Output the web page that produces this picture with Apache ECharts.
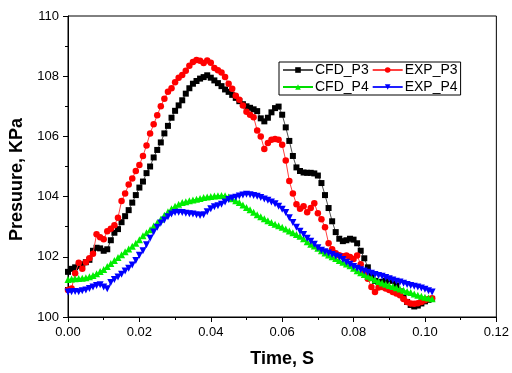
<!DOCTYPE html>
<html>
<head>
<meta charset="utf-8">
<script src="https://cdn.jsdelivr.net/npm/echarts@6/dist/echarts.min.js"></script>
<style>
html,body{margin:0;padding:0;background:#fff;}
#chart{width:512px;height:373px;}
</style>
</head>
<body>
<div id="chart"></div>
<script>
const seriesNames = ['CFD_P3', 'EXP_P3', 'CFD_P4', 'EXP_P4'];
const timeStart = 0.0;
const timeStep = 0.001;

const cfdP3 = [101.5,101.6,101.65,101.7,101.75,101.82,101.9,102.2,102.3,102.28,
102.2,102.25,102.55,102.8,102.92,103.15,103.35,103.55,103.8,104.05,
104.3,104.5,104.78,105.0,105.3,105.55,105.8,106.1,106.35,106.62,
106.85,107.03,107.2,107.42,107.6,107.75,107.84,107.92,107.97,108.03,
107.95,107.86,107.77,107.67,107.56,107.48,107.38,107.28,107.17,107.07,
107.0,106.95,106.9,106.84,106.6,106.5,106.62,106.8,106.94,106.99,
106.72,106.3,105.85,105.35,104.97,104.85,104.8,104.79,104.79,104.77,
104.7,104.45,104.05,103.62,103.18,102.82,102.6,102.52,102.55,102.6,
102.57,102.45,102.2,101.95,101.65,101.38,101.2,101.16,101.17,101.2,
101.25,101.2,101.05,100.85,100.65,100.5,100.4,100.35,100.38,100.45,
100.52,100.57,100.6];

const expP3 = [100.9,100.95,101.45,101.8,101.6,101.82,101.95,102.1,102.75,102.65,
102.58,102.85,102.93,103.05,103.3,103.85,104.1,104.4,104.6,104.85,
105.05,105.35,105.7,106.1,106.4,106.7,107.0,107.25,107.48,107.6,
107.8,107.95,108.04,108.18,108.35,108.47,108.54,108.51,108.44,108.52,
108.45,108.27,108.2,108.12,107.97,107.75,107.58,107.35,107.22,107.03,
106.82,106.72,106.64,106.2,106.0,105.58,105.78,105.89,105.91,105.89,
105.72,105.2,104.52,104.1,103.75,103.6,103.68,103.48,103.62,103.78,
103.45,103.25,102.98,102.45,102.25,102.12,102.05,102.02,102.04,101.99,
101.93,102.04,101.75,101.45,101.27,101.0,100.83,100.98,101.0,100.95,
100.9,100.83,100.78,100.72,100.6,100.5,100.45,100.44,100.46,100.5,
100.56,100.6,100.62];

const cfdP4 = [101.25,101.26,101.27,101.28,101.29,101.3,101.34,101.38,101.44,101.51,
101.58,101.68,101.78,101.88,101.98,102.07,102.17,102.26,102.35,102.45,
102.57,102.7,102.8,102.9,103.02,103.13,103.25,103.38,103.5,103.6,
103.68,103.75,103.8,103.83,103.86,103.89,103.91,103.94,103.97,103.99,
104.0,104.02,104.03,104.04,104.03,103.99,103.93,103.86,103.8,103.72,
103.64,103.56,103.48,103.4,103.33,103.26,103.2,103.14,103.08,103.03,
102.98,102.92,102.86,102.8,102.74,102.68,102.6,102.5,102.42,102.36,
102.28,102.2,102.13,102.06,102.0,101.94,101.88,101.82,101.76,101.7,
101.62,101.54,101.47,101.41,101.35,101.3,101.24,101.18,101.13,101.09,
101.05,101.01,100.97,100.93,100.89,100.85,100.81,100.76,100.72,100.69,
100.66,100.63,100.61];

const expP4 = [100.83,100.84,100.85,100.84,100.87,100.9,100.95,101.0,101.05,101.07,
101.0,100.94,101.15,101.25,101.33,101.42,101.53,101.62,101.73,101.88,
102.05,102.2,102.4,102.62,102.82,102.98,103.12,103.22,103.33,103.42,
103.47,103.48,103.47,103.45,103.43,103.42,103.4,103.37,103.4,103.5,
103.6,103.66,103.7,103.75,103.82,103.9,103.95,103.98,104.02,104.05,
104.08,104.06,104.04,104.01,103.97,103.92,103.88,103.82,103.76,103.68,
103.58,103.47,103.3,103.14,102.98,102.85,102.74,102.62,102.52,102.42,
102.3,102.22,102.17,102.13,102.08,102.03,101.99,101.91,101.82,101.75,
101.68,101.62,101.57,101.53,101.49,101.45,101.41,101.38,101.35,101.31,
101.27,101.23,101.19,101.16,101.12,101.08,101.05,101.02,101.0,100.96,
100.92,100.87,100.83];

const xTicks = [0.00, 0.02, 0.04, 0.06, 0.08, 0.10, 0.12];
const yTicks = [100, 102, 104, 106, 108, 110];

function pairs(vals) {
  return vals.map((v, i) => [+(timeStart + i * timeStep).toFixed(4), v]);
}

const FONT = '"Liberation Sans", Arial, sans-serif';
const chart = echarts.init(document.getElementById('chart'), null, {renderer: 'canvas'});

const styles = [
  {symbol: 'rect', size: 6, rotate: 0, color: '#000000', line: '#505050'},
  {symbol: 'circle', size: 6.5, rotate: 0, color: '#ff0000', line: '#ff4040'},
  {symbol: 'triangle', size: 7, rotate: 0, color: '#00ee00', line: '#00dd00'},
  {symbol: 'triangle', size: 7, rotate: 180, color: '#0000ff', line: '#2020ff'}
];
const dataSets = [cfdP3, expP3, cfdP4, expP4];

const option = {
  animation: false,
  backgroundColor: '#fff',
  grid: {
    left: 68, right: 14, top: 16, bottom: 54,
    show: true, borderColor: '#000', borderWidth: 1
  },
  legend: {
    left: 279, top: 62, width: 184,
    orient: 'horizontal',
    data: seriesNames,
    itemWidth: 30, itemHeight: 7, itemGap: 3,
    padding: [1, 3, 1, 3],
    borderColor: '#000', borderWidth: 1,
    backgroundColor: '#fff',
    textStyle: {fontFamily: FONT, fontSize: 14, color: '#000', padding: [0, 0, 0, -3]}
  },
  xAxis: {
    type: 'value', min: xTicks[0], max: xTicks[xTicks.length - 1], interval: 0.02,
    axisLine: {show: true, lineStyle: {color: '#000', width: 1}},
    axisTick: {show: true, length: 5, lineStyle: {color: '#000'}},
    minorTick: {show: true, splitNumber: 2, length: 3, lineStyle: {color: '#000'}},
    splitLine: {show: false},
    axisLabel: {fontFamily: FONT, fontSize: 13, color: '#000', margin: 9,
      formatter: v => v.toFixed(2)},
    name: 'Time, S', nameLocation: 'middle', nameGap: 33,
    nameTextStyle: {fontFamily: FONT, fontSize: 18, fontWeight: 'bold', color: '#000'}
  },
  yAxis: {
    type: 'value', min: yTicks[0], max: yTicks[yTicks.length - 1], interval: 2,
    axisLine: {show: true, lineStyle: {color: '#000', width: 1}},
    axisTick: {show: true, length: 5, lineStyle: {color: '#000'}},
    minorTick: {show: true, splitNumber: 2, length: 3, lineStyle: {color: '#000'}},
    splitLine: {show: false},
    axisLabel: {fontFamily: FONT, fontSize: 13, color: '#000', margin: 9},
    name: 'Presuure, KPa', nameLocation: 'middle', nameGap: 40, nameRotate: 90,
    nameTextStyle: {fontFamily: FONT, fontSize: 18, fontWeight: 'bold', color: '#000',
      padding: [0, 26, 0, 0]}
  },
  series: seriesNames.map((name, k) => ({
    name: name,
    type: 'line',
    data: pairs(dataSets[k]),
    symbol: styles[k].symbol,
    symbolSize: styles[k].size,
    symbolRotate: styles[k].rotate,
    showAllSymbol: true,
    itemStyle: {color: styles[k].color},
    lineStyle: {color: styles[k].line, width: 1},
    z: 2 + k
  }))
};
chart.setOption(option);
</script>
</body>
</html>
